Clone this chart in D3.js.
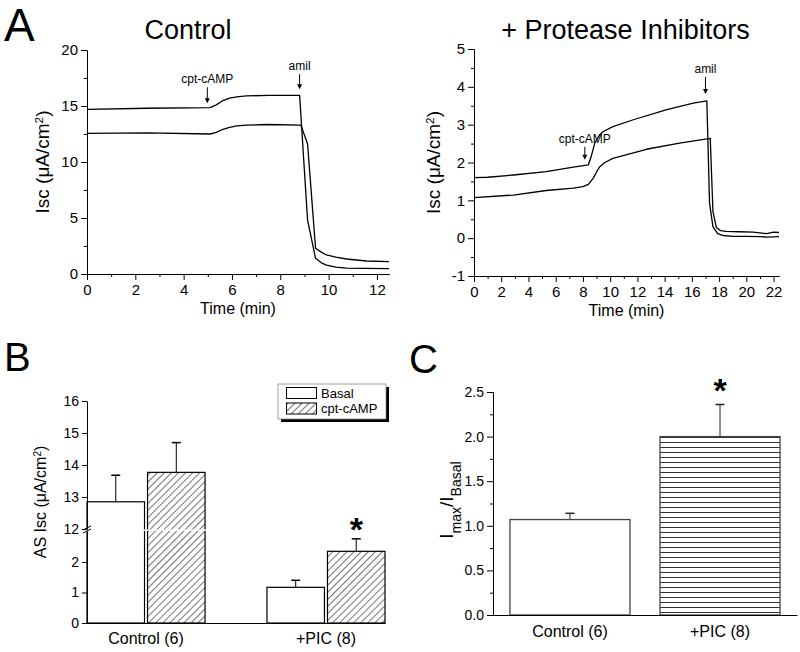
<!DOCTYPE html>
<html>
<head>
<meta charset="utf-8">
<script src="https://cdn.jsdelivr.net/npm/d3@7"></script>
<style>
  body { margin: 0; background: #fff; }
  svg text { font-family: Arial, "Liberation Sans", sans-serif; fill: #000; }
</style>
</head>
<body>
<svg id="fig" width="800" height="652"></svg>
<script>
// ---- data ----
// A, Control traces (time in min, Isc in uA/cm2)
var ctrlUpperT = [0, 2.5, 5.1, 5.35, 5.6, 5.9, 6.2, 6.6, 7.5, 8.8, 9.13, 9.46, 9.7, 9.91, 10.3, 10.74, 11.5, 12.5];
var ctrlUpperI = [14.7, 14.8, 14.85, 15.1, 15.45, 15.7, 15.82, 15.9, 15.95, 15.95, 4.8, 1.4, 1.0, 0.8, 0.62, 0.52, 0.5, 0.48];
var ctrlLowerT = [0, 2.5, 5.1, 5.35, 5.6, 5.9, 6.2, 6.6, 7.5, 8.85, 9.13, 9.46, 9.7, 9.91, 10.3, 10.74, 11.57, 12.5];
var ctrlLowerI = [12.56, 12.6, 12.5, 12.65, 12.9, 13.1, 13.22, 13.3, 13.35, 13.3, 11.6, 2.3, 1.95, 1.7, 1.5, 1.34, 1.16, 1.1];

// A, + Protease Inhibitors traces
var picUpperT = [0, 1, 2.9, 5.3, 7.3, 8.4, 8.6, 8.87, 9.2, 9.5, 10.2, 11.7, 14.1, 16.1, 17.1, 17.3, 17.55, 17.9, 18.3, 19, 20, 21, 21.5, 22.4];
var picUpperI = [1.6, 1.61, 1.67, 1.76, 1.88, 1.94, 2.15, 2.51, 2.72, 2.82, 2.95, 3.13, 3.39, 3.57, 3.63, 0.92, 0.3, 0.12, 0.07, 0.05, 0.05, 0.04, 0.03, 0.04];
var picLowerT = [0, 2.9, 5.3, 7.3, 8.0, 8.4, 8.75, 9.0, 9.24, 9.6, 10.2, 12.66, 15.1, 17.35, 17.55, 17.8, 18.1, 18.5, 19.5, 20.5, 21.0, 21.5, 22.0, 22.4];
var picLowerI = [1.07, 1.14, 1.26, 1.32, 1.36, 1.42, 1.58, 1.75, 1.89, 2.0, 2.11, 2.35, 2.51, 2.64, 0.7, 0.28, 0.2, 0.18, 0.17, 0.16, 0.14, 0.12, 0.16, 0.15];

// B, apical Isc bars
var groupsB = ["Control (6)", "+PIC (8)"];
var seriesB = ["Basal", "cpt-cAMP"];
var basalMean = [12.85, 1.17];
var basalSem = [0.83, 0.23];
var campMean = [13.77, 2.35];
var campSem = [0.93, 0.41];
var yTicksLow = [0, 1, 2];
var yTicksHigh = [12, 13, 14, 15, 16];

// C, Imax / Ibasal
var groupsC = ["Control (6)", "+PIC (8)"];
var ratioMean = [1.07, 2.0];
var ratioSem = [0.07, 0.36];

var svg = d3.select("#fig");
var defs = svg.append("defs");

defs.append("pattern")
  .attr("id", "diag")
  .attr("patternUnits", "userSpaceOnUse")
  .attr("width", 5).attr("height", 5)
  .attr("patternTransform", "rotate(45)")
  .append("line")
    .attr("x1", 0).attr("y1", 0).attr("x2", 0).attr("y2", 5)
    .attr("stroke", "#000").attr("stroke-width", 1.1);

defs.append("pattern")
  .attr("id", "horiz")
  .attr("patternUnits", "userSpaceOnUse")
  .attr("width", 10).attr("height", 5)
  .append("line")
    .attr("x1", 0).attr("y1", 2.5).attr("x2", 10).attr("y2", 2.5)
    .attr("stroke", "#333").attr("stroke-width", 1);

function styleAxis(g, size) {
  g.select(".domain").attr("stroke", "#000").attr("stroke-width", 1);
  g.selectAll(".tick line").attr("stroke", "#000");
  g.selectAll(".tick text")
    .attr("font-family", "Arial, 'Liberation Sans', sans-serif")
    .attr("font-size", size);
}

function arrow(g, x, yTip, len, label) {
  g.append("line")
    .attr("x1", x).attr("x2", x)
    .attr("y1", yTip - len).attr("y2", yTip - 4)
    .attr("stroke", "#000").attr("stroke-width", 1);
  g.append("path")
    .attr("d", "M" + (x - 2.5) + "," + (yTip - 5) + "L" + (x + 2.5) + "," + (yTip - 5) + "L" + x + "," + yTip + "Z")
    .attr("fill", "#000");
  g.append("text")
    .attr("x", x).attr("y", yTip - len - 4)
    .attr("text-anchor", "middle")
    .attr("font-size", 12)
    .text(label);
}

function iscLabel(g, x, y, size) {
  var t = g.append("text")
    .attr("transform", "translate(" + x + "," + y + ") rotate(-90)")
    .attr("text-anchor", "middle")
    .attr("font-size", size);
  t.append("tspan").text("Isc (\u03bcA/cm");
  t.append("tspan").attr("font-size", size * 0.62).attr("baseline-shift", "super").text("2");
  t.append("tspan").text(")");
  return t;
}

// ---- panel A: the two traces ----
function tracePanel(o) {
  var g = svg.append("g");
  var x = d3.scaleLinear().domain(o.xDomain).range(o.xRange);
  var y = d3.scaleLinear().domain(o.yDomain).range(o.yRange);

  g.append("g").attr("transform", "translate(0," + o.yRange[0] + ")")
    .call(d3.axisBottom(x).tickValues(o.xMinor).tickSize(3).tickFormat("").tickSizeOuter(0))
    .call(function (a) { styleAxis(a, 15); });
  g.append("g").attr("transform", "translate(0," + o.yRange[0] + ")")
    .call(d3.axisBottom(x).tickValues(o.xTicks).tickSize(6).tickPadding(4).tickSizeOuter(0))
    .call(function (a) { styleAxis(a, 15); });
  g.append("g").attr("transform", "translate(" + o.xRange[0] + ",0)")
    .call(d3.axisLeft(y).tickValues(o.yMinor).tickSize(3).tickFormat("").tickSizeOuter(0))
    .call(function (a) { styleAxis(a, 15); });
  g.append("g").attr("transform", "translate(" + o.xRange[0] + ",0)")
    .call(d3.axisLeft(y).tickValues(o.yTicks).tickSize(6).tickPadding(3).tickSizeOuter(0)
      .tickFormat(function (d) { return d < 0 ? "-" + Math.abs(d) : d; }))
    .call(function (a) { styleAxis(a, 15); });

  var line = d3.line()
    .x(function (d) { return x(d[0]); })
    .y(function (d) { return y(d[1]); });
  o.traces.forEach(function (tr) {
    g.append("path")
      .datum(d3.zip(tr[0], tr[1]))
      .attr("d", line)
      .attr("fill", "none")
      .attr("stroke", "#000")
      .attr("stroke-width", 1.3)
      .attr("stroke-linejoin", "round");
  });

  o.notes.forEach(function (n) { arrow(g, x(n.t), y(n.v), n.len, n.label); });

  g.append("text")
    .attr("x", (o.xRange[0] + o.xRange[1]) / 2 + o.titleDx)
    .attr("y", 39)
    .attr("text-anchor", "middle")
    .attr("font-size", 27)
    .text(o.title);
  g.append("text")
    .attr("x", (o.xRange[0] + o.xRange[1]) / 2)
    .attr("y", o.xLabelY)
    .attr("text-anchor", "middle")
    .attr("font-size", 16)
    .text("Time (min)");
  iscLabel(g, o.yLabelX, (o.yRange[0] + o.yRange[1]) / 2, 19);
}

tracePanel({
  xDomain: [0, 12.5], xRange: [87, 389],
  yDomain: [0, 20], yRange: [274, 50],
  xTicks: d3.range(0, 13, 2), xMinor: d3.range(1, 13, 2),
  yTicks: d3.range(0, 21, 5), yMinor: [2.5, 7.5, 12.5, 17.5],
  traces: [[ctrlUpperT, ctrlUpperI], [ctrlLowerT, ctrlLowerI]],
  notes: [
    { t: 4.98, v: 15.25, len: 16, label: "cpt-cAMP" },
    { t: 8.8, v: 16.5, len: 15, label: "amil" }
  ],
  title: "Control", titleDx: -50,
  xLabelY: 314, yLabelX: 49
});

tracePanel({
  xDomain: [0, 22.4], xRange: [474, 779],
  yDomain: [-1, 5], yRange: [276, 49],
  xTicks: d3.range(0, 23, 2), xMinor: d3.range(1, 23, 2),
  yTicks: d3.range(-1, 6, 1), yMinor: d3.range(-0.5, 5, 1),
  traces: [[picUpperT, picUpperI], [picLowerT, picLowerI]],
  notes: [
    { t: 8.14, v: 2.07, len: 13, label: "cpt-cAMP" },
    { t: 17.0, v: 3.81, len: 17, label: "amil" }
  ],
  title: "+ Protease Inhibitors", titleDx: -1,
  xLabelY: 316, yLabelX: 440
});

svg.append("text").attr("x", 4).attr("y", 41).attr("font-size", 46).text("A");

// ---- panel B: bars with a broken y axis ----
(function () {
  var g = svg.append("g");
  var yLo = d3.scaleLinear().domain([0, 3]).range([623, 531.5]);
  var yHi = d3.scaleLinear().domain([12, 16]).range([529, 401]);
  var yB = function (v) { return v <= 3 ? yLo(v) : yHi(v); };
  var x0 = d3.scaleBand().domain(groupsB).range([87, 385]).paddingInner(0.344).paddingOuter(0);
  var x1 = d3.scaleBand().domain(seriesB).range([0, x0.bandwidth()]).paddingInner(0.05);

  var rows = [];
  groupsB.forEach(function (grp, i) {
    rows.push({ g: grp, s: "Basal", m: basalMean[i], e: basalSem[i], fill: "#fff" });
    rows.push({ g: grp, s: "cpt-cAMP", m: campMean[i], e: campSem[i], fill: "url(#diag)" });
  });

  var bar = g.selectAll("g.bar").data(rows).enter().append("g").attr("class", "bar");
  bar.append("line")
    .attr("x1", function (d) { return x0(d.g) + x1(d.s) + x1.bandwidth() / 2; })
    .attr("x2", function (d) { return x0(d.g) + x1(d.s) + x1.bandwidth() / 2; })
    .attr("y1", function (d) { return yB(d.m); })
    .attr("y2", function (d) { return yB(d.m + d.e); })
    .attr("stroke", "#000");
  bar.append("line")
    .attr("x1", function (d) { return x0(d.g) + x1(d.s) + x1.bandwidth() / 2 - 4.5; })
    .attr("x2", function (d) { return x0(d.g) + x1(d.s) + x1.bandwidth() / 2 + 4.5; })
    .attr("y1", function (d) { return yB(d.m + d.e); })
    .attr("y2", function (d) { return yB(d.m + d.e); })
    .attr("stroke", "#000").attr("stroke-width", 1.5);
  bar.append("rect")
    .attr("x", function (d) { return x0(d.g) + x1(d.s); })
    .attr("width", x1.bandwidth())
    .attr("y", function (d) { return yB(d.m); })
    .attr("height", function (d) { return yLo(0) - yB(d.m); })
    .attr("fill", function (d) { return d.fill; })
    .attr("stroke", "#000").attr("stroke-width", 1.2);

  // the gap of the axis break
  g.append("rect").attr("x", 80).attr("y", yHi(12) + 0.5).attr("width", 310)
    .attr("height", yLo(3) - yHi(12) - 1).attr("fill", "#fff");

  g.append("g").attr("transform", "translate(87,0)")
    .call(d3.axisLeft(yLo).tickValues(yTicksLow).tickSize(5).tickPadding(3)
      .tickFormat(d3.format("d")).tickSizeOuter(0))
    .call(function (a) { styleAxis(a, 14); });
  g.append("g").attr("transform", "translate(87,0)")
    .call(d3.axisLeft(yHi).tickValues(yTicksHigh).tickSize(5).tickPadding(3)
      .tickFormat(d3.format("d")).tickSizeOuter(0))
    .call(function (a) { styleAxis(a, 14); });
  [-1.5, 1.5].forEach(function (dy) {
    g.append("line")
      .attr("x1", 83).attr("x2", 91)
      .attr("y1", yHi(12) + 2.5 + dy).attr("y2", yHi(12) - 1.5 + dy)
      .attr("stroke", "#000");
  });

  g.append("g").attr("transform", "translate(0," + yLo(0) + ")")
    .call(d3.axisBottom(x0).tickSize(0).tickPadding(7).tickSizeOuter(0))
    .call(function (a) { styleAxis(a, 16); a.selectAll(".tick text").attr("dy", "0.85em"); });

  g.append("text")
    .attr("x", x0("+PIC (8)") + x1("cpt-cAMP") + x1.bandwidth() / 2)
    .attr("y", yB(campMean[1] + campSem[1]) + 2)
    .attr("text-anchor", "middle").attr("font-size", 34).attr("font-weight", "bold")
    .text("*");

  var t = g.append("text")
    .attr("transform", "translate(46,502) rotate(-90)")
    .attr("text-anchor", "middle").attr("font-size", 16);
  t.append("tspan").text("AS Isc (\u03bcA/cm");
  t.append("tspan").attr("font-size", 10).attr("baseline-shift", "super").text("2");
  t.append("tspan").text(")");

  // legend
  var lg = g.append("g").attr("transform", "translate(278,384)");
  lg.append("rect").attr("x", 3).attr("y", 3).attr("width", 108).attr("height", 35).attr("fill", "#000");
  lg.append("rect").attr("x", 0).attr("y", 0).attr("width", 108).attr("height", 35)
    .attr("fill", "#fff").attr("stroke", "#888").attr("stroke-width", 0.8);
  seriesB.forEach(function (s, i) {
    lg.append("rect").attr("x", 8.5).attr("y", 3.5 + i * 15.5).attr("width", 30).attr("height", 11)
      .attr("fill", i ? "url(#diag)" : "#fff").attr("stroke", "#000");
    lg.append("text").attr("x", 43).attr("y", 13.5 + i * 15.5).attr("font-size", 13).text(s);
  });
})();

svg.append("text").attr("x", 4).attr("y", 371).attr("font-size", 40).text("B");

// ---- panel C: ratio bars ----
(function () {
  var g = svg.append("g");
  var y = d3.scaleLinear().domain([0, 2.5]).range([615, 392]);
  var x = d3.scaleBand().domain(groupsC).range([493, 797]).paddingInner(0.2).paddingOuter(0.113);
  var fills = ["#fff", "url(#horiz)"];

  var bar = g.selectAll("g.bar").data(groupsC).enter().append("g").attr("class", "bar");
  bar.append("line")
    .attr("x1", function (d) { return x(d) + x.bandwidth() / 2; })
    .attr("x2", function (d) { return x(d) + x.bandwidth() / 2; })
    .attr("y1", function (d, i) { return y(ratioMean[i]); })
    .attr("y2", function (d, i) { return y(ratioMean[i] + ratioSem[i]); })
    .attr("stroke", "#222");
  bar.append("line")
    .attr("x1", function (d) { return x(d) + x.bandwidth() / 2 - 4.5; })
    .attr("x2", function (d) { return x(d) + x.bandwidth() / 2 + 4.5; })
    .attr("y1", function (d, i) { return y(ratioMean[i] + ratioSem[i]); })
    .attr("y2", function (d, i) { return y(ratioMean[i] + ratioSem[i]); })
    .attr("stroke", "#222").attr("stroke-width", 1.5);
  bar.append("rect")
    .attr("x", function (d) { return x(d); })
    .attr("width", x.bandwidth())
    .attr("y", function (d, i) { return y(ratioMean[i]); })
    .attr("height", function (d, i) { return y(0) - y(ratioMean[i]); })
    .attr("fill", function (d, i) { return fills[i]; })
    .attr("stroke", "#444").attr("stroke-width", 1.3);

  g.append("g").attr("transform", "translate(493,0)")
    .call(d3.axisLeft(y).tickValues(d3.range(0.25, 2.5, 0.5)).tickSize(3).tickFormat("").tickSizeOuter(0))
    .call(function (a) { styleAxis(a, 14); });
  g.append("g").attr("transform", "translate(493,0)")
    .call(d3.axisLeft(y).tickValues(d3.range(0, 2.51, 0.5)).tickSize(6).tickPadding(3)
      .tickFormat(d3.format(".1f")).tickSizeOuter(0))
    .call(function (a) { styleAxis(a, 14); });
  g.append("g").attr("transform", "translate(0," + y(0) + ")")
    .call(d3.axisBottom(x).tickSize(0).tickPadding(8).tickSizeOuter(0))
    .call(function (a) { styleAxis(a, 16); a.selectAll(".tick text").attr("dy", "0.85em"); });

  g.append("text")
    .attr("x", x("+PIC (8)") + x.bandwidth() / 2)
    .attr("y", y(ratioMean[1] + ratioSem[1]) - 2)
    .attr("text-anchor", "middle").attr("font-size", 34).attr("font-weight", "bold")
    .text("*");

  var t = g.append("text")
    .attr("transform", "translate(453,500) rotate(-90)")
    .attr("text-anchor", "middle").attr("font-size", 19);
  t.append("tspan").text("I");
  t.append("tspan").attr("font-size", 14).attr("baseline-shift", "sub").text("max");
  t.append("tspan").text("/I");
  t.append("tspan").attr("font-size", 14).attr("baseline-shift", "sub").text("Basal");
})();

svg.append("text").attr("x", 409).attr("y", 373).attr("font-size", 40).text("C");
</script>
</body>
</html>
